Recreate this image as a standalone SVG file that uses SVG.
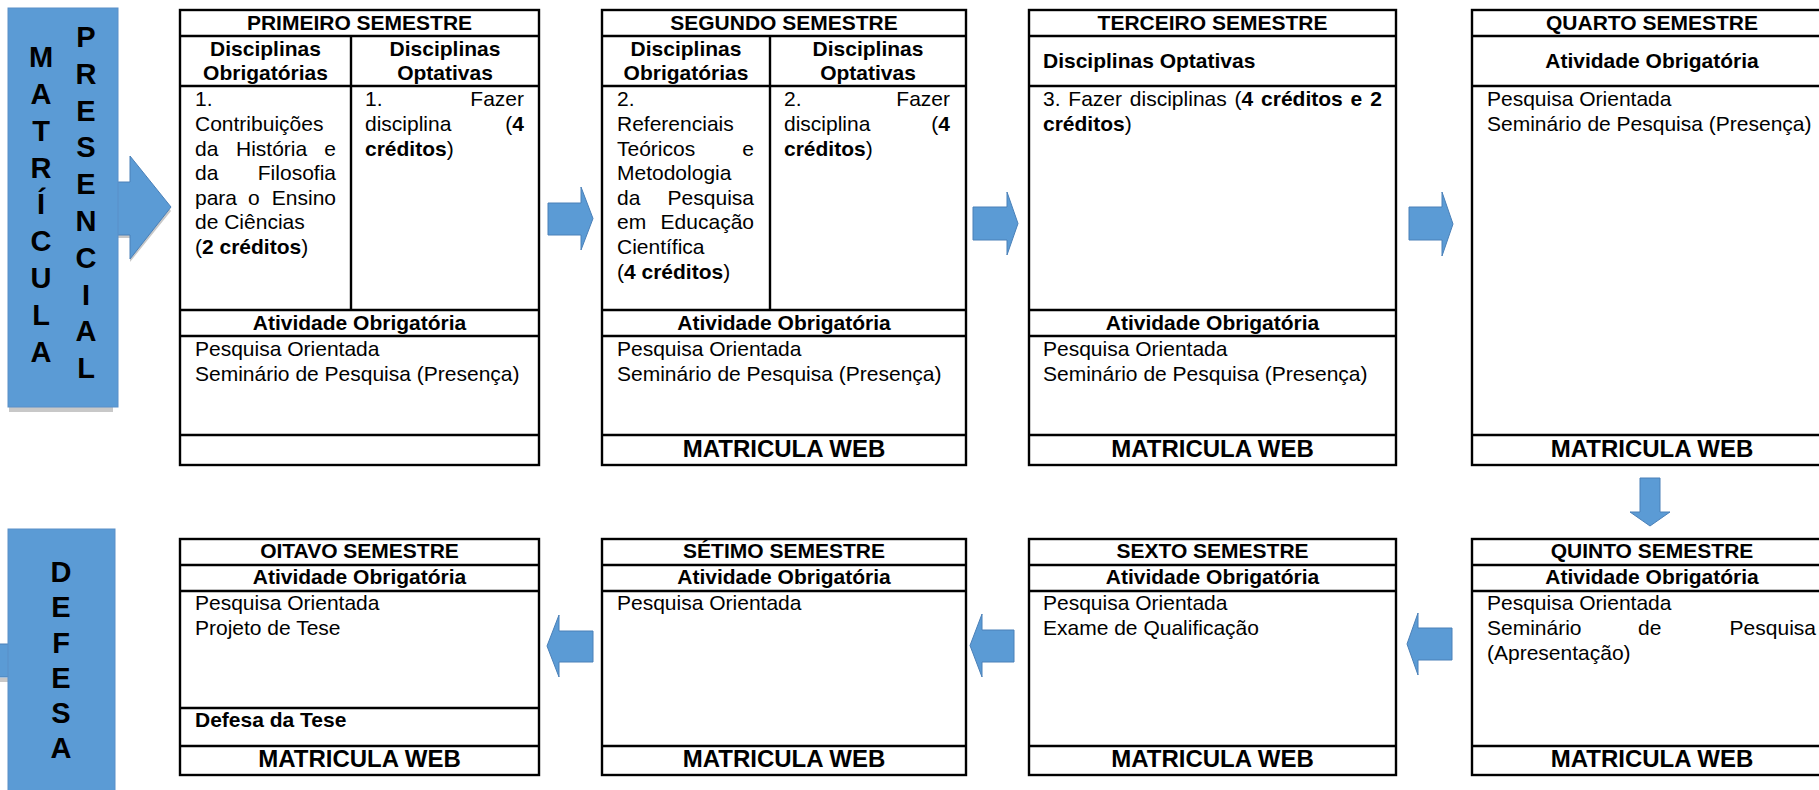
<svg xmlns="http://www.w3.org/2000/svg" width="1819" height="790" viewBox="0 0 1819 790">
<style>
text{font-family:"Liberation Sans",Arial,sans-serif;fill:#000}
.h{font-size:21px;font-weight:bold;text-anchor:middle}
.b{font-size:21px}
.bb{font-weight:bold}
.mw{font-size:24px;font-weight:bold;text-anchor:middle}
.big{font-size:29px;font-weight:bold;text-anchor:middle}
.box{fill:#fff;stroke:#000;stroke-width:2.4}
.ln{stroke:#000;stroke-width:2.4;fill:none}
.arr{fill:#5B9BD5;stroke:#4A80B8;stroke-width:1}
.sh{fill:#C8C8C8}
.blue{fill:#5B9BD5;stroke:#5A8FC8;stroke-width:1}
.e{text-anchor:end}
</style>
<rect width="1819" height="790" fill="#fff"/>

<g id="connectors">
  <polygon class="sh" points="100,185 130,185 130,160 171,211 130,262 130,238 100,238"/>
  <polygon class="arr" points="100,182 130,182 130,156 171,207 130,259 130,235 100,235"/>
  <polygon class="arr" points="548,203 581,203 581,187 593,218.5 581,250 581,235 548,235"/>
  <polygon class="arr" points="973,207 1007,207 1007,192 1018,223.5 1007,255 1007,240 973,240"/>
  <polygon class="arr" points="1409,207 1442,207 1442,192 1453,224 1442,256 1442,240 1409,240"/>
  <polygon class="arr" points="1640,478 1660,478 1660,512 1670,512 1650,526 1630,512 1640,512"/>
  <polygon class="arr" points="1452,628 1418,628 1418,613 1407,644 1418,675 1418,660 1452,660"/>
  <polygon class="arr" points="1014,630 982,630 982,614 970,645.5 982,677 982,662 1014,662"/>
  <polygon class="arr" points="593,631 559,631 559,615 547,646 559,677 559,662 593,662"/>
  <rect class="sh" x="-5" y="678" width="14" height="4"/>
  <rect class="arr" x="-5" y="644" width="14" height="33"/>
</g>

<g id="matricula">
  <rect class="sh" x="9" y="407" width="104" height="5"/>
  <rect class="blue" x="8" y="8" width="110" height="399"/>
  <text class="big" x="41" y="67">M</text>
  <text class="big" x="41" y="104">A</text>
  <text class="big" x="41" y="141">T</text>
  <text class="big" x="41" y="178">R</text>
  <text class="big" x="41" y="214">Í</text>
  <text class="big" x="41" y="251">C</text>
  <text class="big" x="41" y="288">U</text>
  <text class="big" x="41" y="325">L</text>
  <text class="big" x="41" y="362">A</text>
  <text class="big" x="86" y="47">P</text>
  <text class="big" x="86" y="84">R</text>
  <text class="big" x="86" y="121">E</text>
  <text class="big" x="86" y="157">S</text>
  <text class="big" x="86" y="194">E</text>
  <text class="big" x="86" y="231">N</text>
  <text class="big" x="86" y="268">C</text>
  <text class="big" x="86" y="305">I</text>
  <text class="big" x="86" y="341">A</text>
  <text class="big" x="86" y="378">L</text>
</g>

<g id="defesa">
  <rect class="blue" x="8" y="529" width="107" height="270"/>
  <text class="big" x="61" y="582">D</text>
  <text class="big" x="61" y="617">E</text>
  <text class="big" x="61" y="653">F</text>
  <text class="big" x="61" y="688">E</text>
  <text class="big" x="61" y="723">S</text>
  <text class="big" x="61" y="758">A</text>
</g>

<g id="sem1">
  <rect class="box" x="180" y="10" width="359" height="455"/>
  <path class="ln" d="M180,36H539M180,86H539M351,36V310M180,310H539M180,336H539M180,435H539"/>
  <text class="h" x="359.5" y="30">PRIMEIRO SEMESTRE</text>
  <text class="h" x="265.5" y="56">Disciplinas</text>
  <text class="h" x="265.5" y="80">Obrigatórias</text>
  <text class="h" x="445" y="56">Disciplinas</text>
  <text class="h" x="445" y="80">Optativas</text>
  <text class="b" x="195" y="106">1.</text>
  <text class="b" x="195" y="131">Contribuições</text>
  <text class="b" x="195" y="156">da</text><text class="b" x="236" y="156">História</text><text class="b e" x="336" y="156">e</text>
  <text class="b" x="195" y="180">da</text><text class="b e" x="336" y="180">Filosofia</text>
  <text class="b" x="195" y="205">para</text><text class="b" x="248" y="205">o</text><text class="b e" x="336" y="205">Ensino</text>
  <text class="b" x="195" y="229">de Ciências</text>
  <text class="b" x="195" y="254">(<tspan class="bb">2 créditos</tspan>)</text>
  <text class="b" x="365" y="106">1.</text><text class="b e" x="524" y="106">Fazer</text>
  <text class="b" x="365" y="131">disciplina</text><text class="b e" x="524" y="131">(<tspan class="bb">4</tspan></text>
  <text class="b" x="365" y="156"><tspan class="bb">créditos</tspan>)</text>
  <text class="h" x="359.5" y="330">Atividade Obrigatória</text>
  <text class="b" x="195" y="356">Pesquisa Orientada</text>
  <text class="b" x="195" y="381">Seminário de Pesquisa (Presença)</text>
</g>

<g id="sem2">
  <rect class="box" x="602" y="10" width="364" height="455"/>
  <path class="ln" d="M602,36H966M602,86H966M770,36V310M602,310H966M602,336H966M602,435H966"/>
  <text class="h" x="784" y="30">SEGUNDO SEMESTRE</text>
  <text class="h" x="686" y="56">Disciplinas</text>
  <text class="h" x="686" y="80">Obrigatórias</text>
  <text class="h" x="868" y="56">Disciplinas</text>
  <text class="h" x="868" y="80">Optativas</text>
  <text class="b" x="617" y="106">2.</text>
  <text class="b" x="617" y="131">Referenciais</text>
  <text class="b" x="617" y="156">Teóricos</text><text class="b e" x="754" y="156">e</text>
  <text class="b" x="617" y="180">Metodologia</text>
  <text class="b" x="617" y="205">da</text><text class="b e" x="754" y="205">Pesquisa</text>
  <text class="b" x="617" y="229">em</text><text class="b e" x="754" y="229">Educação</text>
  <text class="b" x="617" y="254">Científica</text>
  <text class="b" x="617" y="279">(<tspan class="bb">4 créditos</tspan>)</text>
  <text class="b" x="784" y="106">2.</text><text class="b e" x="950" y="106">Fazer</text>
  <text class="b" x="784" y="131">disciplina</text><text class="b e" x="950" y="131">(<tspan class="bb">4</tspan></text>
  <text class="b" x="784" y="156"><tspan class="bb">créditos</tspan>)</text>
  <text class="h" x="784" y="330">Atividade Obrigatória</text>
  <text class="b" x="617" y="356">Pesquisa Orientada</text>
  <text class="b" x="617" y="381">Seminário de Pesquisa (Presença)</text>
  <text class="mw" x="784" y="457">MATRICULA WEB</text>
</g>

<g id="sem3">
  <rect class="box" x="1029" y="10" width="367" height="455"/>
  <path class="ln" d="M1029,36H1396M1029,86H1396M1029,310H1396M1029,336H1396M1029,435H1396"/>
  <text class="h" x="1212.5" y="30">TERCEIRO SEMESTRE</text>
  <text class="b bb" x="1043" y="68">Disciplinas Optativas</text>
  <text class="b" x="1043" y="106" word-spacing="2">3. Fazer disciplinas (<tspan class="bb">4 créditos e 2</tspan></text>
  <text class="b" x="1043" y="131"><tspan class="bb">créditos</tspan>)</text>
  <text class="h" x="1212.5" y="330">Atividade Obrigatória</text>
  <text class="b" x="1043" y="356">Pesquisa Orientada</text>
  <text class="b" x="1043" y="381">Seminário de Pesquisa (Presença)</text>
  <text class="mw" x="1212.5" y="457">MATRICULA WEB</text>
</g>

<g id="sem4">
  <rect class="box" x="1472" y="10" width="380" height="455"/>
  <path class="ln" d="M1472,36H1852M1472,86H1852M1472,435H1852"/>
  <text class="h" x="1652" y="30">QUARTO SEMESTRE</text>
  <text class="h" x="1652" y="68">Atividade Obrigatória</text>
  <text class="b" x="1487" y="106">Pesquisa Orientada</text>
  <text class="b" x="1487" y="131">Seminário de Pesquisa (Presença)</text>
  <text class="mw" x="1652" y="457">MATRICULA WEB</text>
</g>

<g id="sem5">
  <rect class="box" x="1472" y="539" width="380" height="236"/>
  <path class="ln" d="M1472,565H1852M1472,591H1852M1472,746H1852"/>
  <text class="h" x="1652" y="558">QUINTO SEMESTRE</text>
  <text class="h" x="1652" y="584">Atividade Obrigatória</text>
  <text class="b" x="1487" y="610">Pesquisa Orientada</text>
  <text class="b" x="1487" y="635">Seminário</text><text class="b" x="1638" y="635">de</text><text class="b e" x="1816" y="635">Pesquisa</text>
  <text class="b" x="1487" y="660">(Apresentação)</text>
  <text class="mw" x="1652" y="767">MATRICULA WEB</text>
</g>

<g id="sem6">
  <rect class="box" x="1029" y="539" width="367" height="236"/>
  <path class="ln" d="M1029,565H1396M1029,591H1396M1029,746H1396"/>
  <text class="h" x="1212.5" y="558">SEXTO SEMESTRE</text>
  <text class="h" x="1212.5" y="584">Atividade Obrigatória</text>
  <text class="b" x="1043" y="610">Pesquisa Orientada</text>
  <text class="b" x="1043" y="635">Exame de Qualificação</text>
  <text class="mw" x="1212.5" y="767">MATRICULA WEB</text>
</g>

<g id="sem7">
  <rect class="box" x="602" y="539" width="364" height="236"/>
  <path class="ln" d="M602,565H966M602,591H966M602,746H966"/>
  <text class="h" x="784" y="558">SÉTIMO SEMESTRE</text>
  <text class="h" x="784" y="584">Atividade Obrigatória</text>
  <text class="b" x="617" y="610">Pesquisa Orientada</text>
  <text class="mw" x="784" y="767">MATRICULA WEB</text>
</g>

<g id="sem8">
  <rect class="box" x="180" y="539" width="359" height="236"/>
  <path class="ln" d="M180,565H539M180,591H539M180,708H539M180,746H539"/>
  <text class="h" x="359.5" y="558">OITAVO SEMESTRE</text>
  <text class="h" x="359.5" y="584">Atividade Obrigatória</text>
  <text class="b" x="195" y="610">Pesquisa Orientada</text>
  <text class="b" x="195" y="635">Projeto de Tese</text>
  <text class="b bb" x="195" y="727">Defesa da Tese</text>
  <text class="mw" x="359.5" y="767">MATRICULA WEB</text>
</g>
</svg>
